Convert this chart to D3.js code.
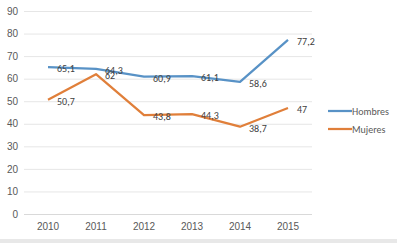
<!DOCTYPE html>
<html>
<head>
<meta charset="utf-8">
<script src="https://cdn.jsdelivr.net/npm/d3@7"></script>
<style>
  body { margin: 0; background: #fff; }
  svg { display: block; font-family: Calibri, Carlito, "Open Sans", sans-serif; }
</style>
</head>
<body>
<div class="chart"></div>
<script>
const years = ['2010', '2011', '2012', '2013', '2014', '2015'];
const hombres = [65.1, 64.3, 60.9, 61.1, 58.6, 77.2];
const mujeres = [50.7, 62, 43.8, 44.3, 38.7, 47];
const yTicks = [0, 10, 20, 30, 40, 50, 60, 70, 80, 90];

const series = [
    { name: 'Hombres', values: hombres, color: '#5892c6' },
    { name: 'Mujeres', values: mujeres, color: '#e07f3a' }
];

const width = 397, height = 243;
const margin = { top: 11, right: 85, bottom: 29, left: 24 };

const svg = d3.select('.chart').append('svg')
    .attr('width', width)
    .attr('height', height);

const x = d3.scaleBand()
    .domain(years)
    .range([margin.left, width - margin.right]);

const y = d3.scaleLinear()
    .domain([0, 90])
    .range([height - margin.bottom, margin.top]);

// gridlines
svg.append('g')
    .selectAll('line')
    .data(yTicks).enter()
    .append('line')
    .attr('x1', margin.left)
    .attr('x2', width - margin.right)
    .attr('y1', d => y(d) + 0.5)
    .attr('y2', d => y(d) + 0.5)
    .attr('stroke', d => d === 0 ? '#d9d9d9' : '#e6e6e6')
    .attr('stroke-width', 1);

// y axis labels
const yAxis = d3.axisLeft(y).tickValues(yTicks).tickSize(0).tickPadding(6);
svg.append('g')
    .attr('transform', `translate(${margin.left},0)`)
    .call(yAxis)
    .call(g => g.select('.domain').remove())
    .selectAll('text')
    .attr('fill', '#595959')
    .style('font-size', '10px');

// x axis labels
const xAxis = d3.axisBottom(x).tickSize(0).tickPadding(9);
svg.append('g')
    .attr('transform', `translate(0,${height - margin.bottom})`)
    .call(xAxis)
    .call(g => g.select('.domain').remove())
    .selectAll('text')
    .attr('fill', '#595959')
    .style('font-size', '10px');

const cx = d => x(d) + x.bandwidth() / 2;

const line = d3.line()
    .x((d, i) => cx(years[i]))
    .y(d => y(d));

series.forEach(s => {
    svg.append('path')
        .attr('d', line(s.values))
        .attr('fill', 'none')
        .attr('stroke', s.color)
        .attr('stroke-width', 2.25)
        .attr('stroke-linejoin', 'round');
});

// data labels (Excel places them to the right of each point)
series.forEach(s => {
    svg.append('g')
        .selectAll('text')
        .data(s.values).enter()
        .append('text')
        .attr('x', (d, i) => cx(years[i]) + 9)
        .attr('y', d => y(d) + 5)
        .attr('fill', '#404040')
        .style('font-size', '10px')
        .text(d => String(d).replace('.', ','));
});

// legend
const legend = svg.append('g')
    .selectAll('g')
    .data(series).enter()
    .append('g')
    .attr('transform', (d, i) => `translate(328,${111 + i * 18})`);
legend.append('line')
    .attr('x1', 0).attr('x2', 24)
    .attr('stroke', d => d.color)
    .attr('stroke-width', 2.25);
legend.append('text')
    .attr('x', 24)
    .attr('y', 4)
    .attr('fill', '#595959')
    .style('font-size', '10px')
    .text(d => d.name);

// bottom border band
svg.append('rect')
    .attr('x', 0).attr('y', 239)
    .attr('width', width).attr('height', 4)
    .attr('fill', '#e8e8e8');
</script>
</body>
</html>
